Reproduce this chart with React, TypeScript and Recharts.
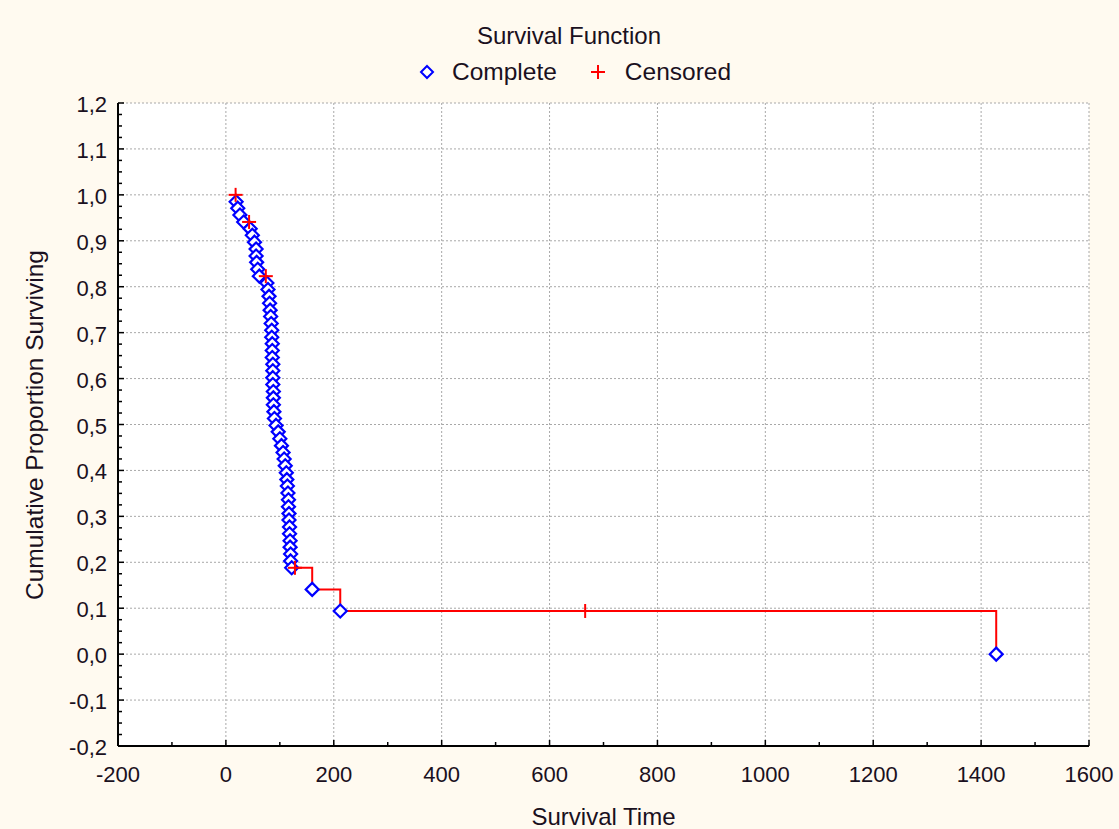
import {
  CartesianGrid,
  ComposedChart,
  Line,
  Scatter,
  XAxis,
  YAxis,
} from "recharts";

const X_TICKS = [-200, 0, 200, 400, 600, 800, 1000, 1200, 1400, 1600];
const Y_TICKS = [-0.2, -0.1, 0, 0.1, 0.2, 0.3, 0.4, 0.5, 0.6, 0.7, 0.8, 0.9, 1.0, 1.1, 1.2];

// complete (event) times and the survival value after each event
const COMPLETE_TIME = [
  19, 22, 26, 33, 45, 49, 53, 56, 56, 57, 59, 62, 76, 78, 80, 81, 82, 83, 84, 85,
  85, 86, 86, 86, 87, 87, 87, 87, 88, 88, 88, 89, 90, 93, 97, 100, 103, 106, 108, 110,
  112, 113, 114, 115, 116, 116, 117, 117, 118, 118, 119, 119, 120, 120, 122, 160, 212, 1428,
];
const COMPLETE_SURV = [
  0.985, 0.971, 0.956, 0.941, 0.926, 0.912, 0.897, 0.882, 0.867, 0.853, 0.838, 0.823, 0.808,
  0.794, 0.779, 0.764, 0.749, 0.735, 0.72, 0.705, 0.69, 0.676, 0.661, 0.646, 0.631, 0.617,
  0.602, 0.587, 0.572, 0.558, 0.543, 0.528, 0.513, 0.498, 0.484, 0.469, 0.454, 0.439, 0.425,
  0.41, 0.395, 0.38, 0.366, 0.351, 0.336, 0.321, 0.306, 0.292, 0.277, 0.262, 0.247, 0.233,
  0.218, 0.203, 0.188, 0.141, 0.094, 0.0,
];

// censored times and the survival level they sit on
const CENSORED_TIME = [18, 43, 74, 128, 666];
const CENSORED_SURV = [1.0, 0.941, 0.823, 0.188, 0.094];

const completeData = COMPLETE_TIME.map((t, i) => ({ t, s: COMPLETE_SURV[i] }));
const censoredData = CENSORED_TIME.map((t, i) => ({ t, s: CENSORED_SURV[i] }));
const stepData = [...completeData, ...censoredData].sort((a, b) =>
  a.t !== b.t ? a.t - b.t : b.s - a.s
);

// split each major interval into minor tick steps
const subdivide = (ticks: number[], parts: number) => {
  const out: number[] = [];
  for (let i = 0; i < ticks.length - 1; i++) {
    const step = (ticks[i + 1] - ticks[i]) / parts;
    for (let k = 0; k < parts; k++) out.push(+(ticks[i] + step * k).toFixed(4));
  }
  out.push(ticks[ticks.length - 1]);
  return out;
};
const X_MINOR = subdivide(X_TICKS, 2);
const Y_MINOR = subdivide(Y_TICKS, 4);

const isMajor = (v: number, list: number[]) => list.some((m) => Math.abs(m - v) < 1e-6);
const fmtY = (v: number) => v.toFixed(1).replace(".", ",");

const FONT = "'Liberation Sans', Arial, sans-serif";
const TEXT = "#1a1020";

const BottomTick = (p: any) => {
  const v = p.payload.value;
  const major = isMajor(v, X_TICKS);
  return (
    <g>
      <line x1={p.x} x2={p.x} y1={p.y} y2={p.y - (major ? 6 : 4)} stroke="#000" strokeWidth={1.5} />
      {major && (
        <text x={p.x} y={p.y + 36} textAnchor="middle" fontSize={22} fontFamily={FONT} fill={TEXT}>
          {v}
        </text>
      )}
    </g>
  );
};

const TopTick = (p: any) => {
  const major = isMajor(p.payload.value, X_TICKS);
  return <line x1={p.x} x2={p.x} y1={p.y} y2={p.y + (major ? 6 : 4)} stroke="#000" strokeWidth={1.5} />;
};

const LeftTick = (p: any) => {
  const v = p.payload.value;
  const major = isMajor(v, Y_TICKS);
  return (
    <g>
      <line x1={p.x} x2={p.x + (major ? 6 : 4)} y1={p.y} y2={p.y} stroke="#000" strokeWidth={1.5} />
      {major && (
        <text x={p.x - 11} y={p.y + 9} textAnchor="end" fontSize={22} fontFamily={FONT} fill={TEXT}>
          {fmtY(v)}
        </text>
      )}
    </g>
  );
};

const RightTick = (p: any) => {
  const major = isMajor(p.payload.value, Y_TICKS);
  return <line x1={p.x} x2={p.x - (major ? 6 : 4)} y1={p.y} y2={p.y} stroke="#000" strokeWidth={1.5} />;
};

const Diamond = (p: any) => {
  const { cx, cy } = p;
  const r = 6.5;
  return (
    <polygon
      points={`${cx},${cy - r} ${cx + r},${cy} ${cx},${cy + r} ${cx - r},${cy}`}
      fill="#ffffff"
      stroke="#0000ff"
      strokeWidth={2.2}
    />
  );
};

const Plus = (p: any) => {
  const { cx, cy } = p;
  const r = 7;
  return (
    <g stroke="#ff0000" strokeWidth={2}>
      <line x1={cx - r} x2={cx + r} y1={cy} y2={cy} />
      <line x1={cx} x2={cx} y1={cy - r} y2={cy + r} />
    </g>
  );
};

const axisLine = { stroke: "#000", strokeWidth: 2 };

export default function App() {
  return (
    <div
      style={{
        position: "absolute",
        left: 0,
        top: 0,
        width: 1119,
        height: 829,
        background: "#fffaf0",
        fontFamily: FONT,
        color: TEXT,
      }}
    >
      <div style={{ position: "absolute", left: 0, width: 1138, top: 22, fontSize: 24, textAlign: "center" }}>
        Survival Function
      </div>
      <div style={{ position: "absolute", left: 419, top: 58, fontSize: 24.5, display: "flex", alignItems: "center" }}>
        <svg width={16} height={16} style={{ marginRight: 17 }}>
          <polygon points="8,2 14,8 8,14 2,8" fill="#fff" stroke="#0000ff" strokeWidth={2} />
        </svg>
        <span>Complete</span>
        <svg width={16} height={16} style={{ marginLeft: 33, marginRight: 19 }}>
          <g stroke="#ff0000" strokeWidth={2}>
            <line x1={1} x2={15} y1={8} y2={8} />
            <line x1={8} x2={8} y1={1} y2={15} />
          </g>
        </svg>
        <span>Censored</span>
      </div>
      <div
        style={{
          position: "absolute",
          left: 35,
          top: 425,
          fontSize: 24.5,
          whiteSpace: "nowrap",
          transform: "translate(-50%, -50%) rotate(-90deg)",
        }}
      >
        Cumulative Proportion Surviving
      </div>
      <div style={{ position: "absolute", left: 0, width: 1207, top: 803, fontSize: 24, textAlign: "center" }}>
        Survival Time
      </div>

      <ComposedChart
        width={1119}
        height={829}
        margin={{ top: 103, right: 30, bottom: 53, left: 58 }}
        style={{ position: "absolute", left: 0, top: 0 }}
      >
        <CartesianGrid
          xAxisId="b"
          yAxisId="l"
          fill="#ffffff"
          stroke="#a8a8a8"
          strokeDasharray="2 2"
          verticalValues={X_TICKS}
          horizontalValues={Y_TICKS}
        />
        <XAxis
          xAxisId="b"
          dataKey="t"
          type="number"
          domain={[-200, 1600]}
          ticks={X_MINOR}
          interval={0}
          height={30}
          tickSize={0}
          tickMargin={0}
          tickLine={false}
          axisLine={axisLine}
          tick={BottomTick}
          allowDataOverflow
        />
        <XAxis
          xAxisId="t"
          orientation="top"
          type="number"
          domain={[-200, 1600]}
          ticks={X_MINOR}
          interval={0}
          height={0}
          tickSize={0}
          tickMargin={0}
          tickLine={false}
          axisLine={axisLine}
          tick={TopTick}
          allowDataOverflow
        />
        <YAxis
          yAxisId="l"
          dataKey="s"
          type="number"
          domain={[-0.2, 1.2]}
          ticks={Y_MINOR}
          interval={0}
          width={60}
          tickSize={0}
          tickMargin={0}
          tickLine={false}
          axisLine={axisLine}
          tick={LeftTick}
          allowDataOverflow
        />
        <YAxis
          yAxisId="r"
          orientation="right"
          type="number"
          domain={[-0.2, 1.2]}
          ticks={Y_MINOR}
          interval={0}
          width={0}
          tickSize={0}
          tickMargin={0}
          tickLine={false}
          axisLine={axisLine}
          tick={RightTick}
          allowDataOverflow
        />
        <Line
          xAxisId="b"
          yAxisId="l"
          data={stepData}
          dataKey="s"
          type="stepAfter"
          stroke="#ff0000"
          strokeWidth={2}
          dot={false}
          activeDot={false}
          isAnimationActive={false}
        />
        <Scatter
          xAxisId="b"
          yAxisId="l"
          data={completeData}
          dataKey="s"
          shape={Diamond}
          isAnimationActive={false}
        />
        <Scatter
          xAxisId="b"
          yAxisId="l"
          data={censoredData}
          dataKey="s"
          shape={Plus}
          isAnimationActive={false}
        />
      </ComposedChart>
    </div>
  );
}
